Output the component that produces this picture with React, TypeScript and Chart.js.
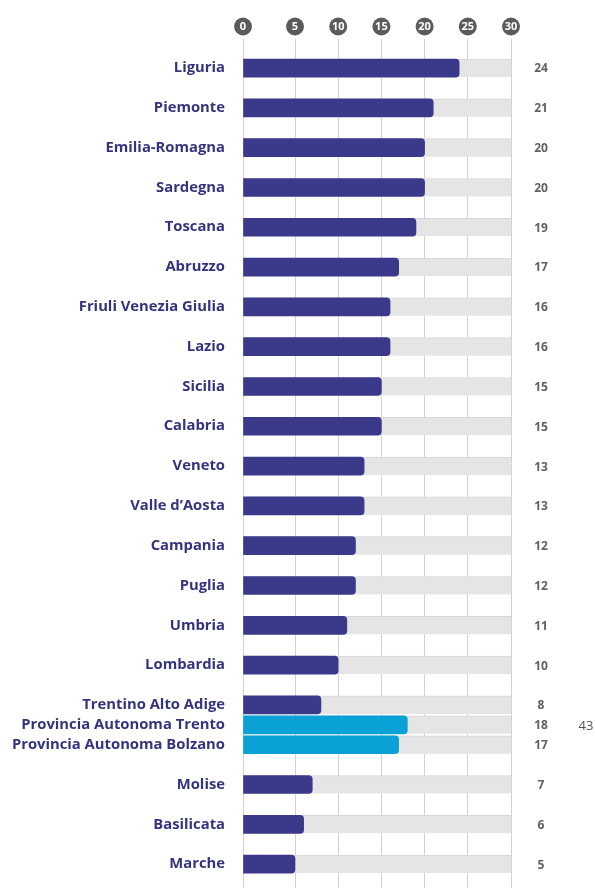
import React, { useEffect, useRef } from "react";
import { Chart, registerables, LinearScale } from "chart.js";

Chart.register(...registerables);

const regions = [
  "Liguria", "Piemonte", "Emilia-Romagna", "Sardegna", "Toscana", "Abruzzo",
  "Friuli Venezia Giulia", "Lazio", "Sicilia", "Calabria", "Veneto", "Valle d\u2019Aosta",
  "Campania", "Puglia", "Umbria", "Lombardia", "Trentino Alto Adige",
  "Provincia Autonoma Trento", "Provincia Autonoma Bolzano", "Molise", "Basilicata", "Marche",
];
const values = [24, 21, 20, 20, 19, 17, 16, 16, 15, 15, 13, 13, 12, 12, 11, 10, 8, 18, 17, 7, 6, 5];
// row slot (in half-row units) for each region
const slots = [0, 2, 4, 6, 8, 10, 12, 14, 16, 18, 20, 22, 24, 26, 28, 30, 32, 33, 34, 36, 38, 40];
const highlighted = ["Provincia Autonoma Trento", "Provincia Autonoma Bolzano"];
const xTicks = [0, 5, 10, 15, 20, 25, 30];
const xMax = 30;
const sideNote = { region: "Provincia Autonoma Trento", text: "43" };

const NAVY = "#3b3a8a";
const CYAN = "#0aa2d6";
const BREAK = 5;
const BREAK_FRAC = 52 / 268;

class PiecewiseScale extends (LinearScale as any) {
  static id = "piecewise";
  static defaults = (LinearScale as any).defaults;
  getPixelForValue(value: number) {
    const max = this.max;
    const frac = value <= BREAK
      ? (value / BREAK) * BREAK_FRAC
      : BREAK_FRAC + ((value - BREAK) / (max - BREAK)) * (1 - BREAK_FRAC);
    return this.getPixelForDecimal(frac);
  }
  getValueForPixel(pixel: number) {
    const frac = this.getDecimalForPixel(pixel);
    const max = this.max;
    return frac <= BREAK_FRAC
      ? (frac / BREAK_FRAC) * BREAK
      : BREAK + ((frac - BREAK_FRAC) / (1 - BREAK_FRAC)) * (max - BREAK);
  }
}
Chart.register(PiecewiseScale as any);

const FONT = "'Open Sans', sans-serif";

export default function App() {
  const ref = useRef<HTMLCanvasElement>(null);
  useEffect(() => {
    document.body.style.margin = "0";
    const canvas = ref.current!;
    const labelBySlot: Record<number, string> = {};
    slots.forEach((s, i) => (labelBySlot[s] = regions[i]));

    const overlay = {
      id: "overlay",
      afterDraw(chart: any) {
        const ctx = chart.ctx;
        const xs = chart.scales.x;
        const ys = chart.scales.y;
        ctx.save();
        // top tick circles
        xTicks.forEach((t) => {
          const px = xs.getPixelForValue(t);
          ctx.beginPath();
          ctx.arc(px, 26.5, 9, 0, Math.PI * 2);
          ctx.fillStyle = "#5b5b5b";
          ctx.fill();
          ctx.fillStyle = "#ffffff";
          ctx.font = `bold 11px ${FONT}`;
          ctx.textAlign = "center";
          ctx.textBaseline = "middle";
          ctx.fillText(String(t), px, 27);
        });
        // value labels
        ctx.font = `bold 12px ${FONT}`;
        ctx.fillStyle = "#606060";
        ctx.textAlign = "center";
        ctx.textBaseline = "middle";
        values.forEach((v, i) => {
          ctx.fillText(String(v), 541, ys.getPixelForValue(slots[i]) + 1);
        });
        const ni = regions.indexOf(sideNote.region);
        ctx.font = `13px ${FONT}`;
        ctx.fillStyle = "#555555";
        ctx.fillText(sideNote.text, 586, ys.getPixelForValue(slots[ni]) + 1);
        ctx.restore();
      },
    };

    const chart = new Chart(canvas, {
      type: "bar",
      data: {
        datasets: [
          {
            data: values.map((v, i) => ({ x: v, y: slots[i] })),
            backgroundColor: regions.map((r) => (highlighted.includes(r) ? CYAN : NAVY)),
            borderRadius: 4,
            borderSkipped: "start",
            barThickness: 18,
            grouped: false,
          },
          {
            data: values.map((_, i) => ({ x: xMax, y: slots[i] })),
            backgroundColor: "#e5e5e5",
            borderColor: "#d6d6d6",
            borderWidth: { top: 1, left: 0, right: 0, bottom: 0 },
            borderSkipped: false,
            barThickness: 18,
            grouped: false,
          },
        ],
      },
      options: {
        indexAxis: "y",
        animation: false,
        responsive: false,
        maintainAspectRatio: false,
        layout: { padding: { top: 39, right: 84, bottom: 0, left: 0 } },
        plugins: { legend: { display: false }, tooltip: { enabled: false } },
        scales: {
          x: {
            type: "piecewise" as any,
            position: "top",
            min: 0,
            max: xMax,
            bounds: "data",
            afterBuildTicks: (scale: any) => {
              scale.ticks = xTicks.map((v) => ({ value: v }));
            },
            afterFit: (scale: any) => {
              scale.height = 0;
              scale.paddingLeft = 0;
              scale.paddingRight = 0;
            },
            ticks: { display: false },
            grid: { color: "#d2d2d2", lineWidth: 1, drawTicks: false },
            border: { display: false },
          },
          y: {
            type: "linear",
            reverse: true,
            offset: false,
            min: -1.46,
            max: 41.2,
            bounds: "data",
            grace: 0,
            afterBuildTicks: (scale: any) => {
              scale.ticks = slots.map((v) => ({ value: v }));
            },
            afterFit: (scale: any) => {
              scale.width = 243;
              scale.paddingTop = 0;
              scale.paddingBottom = 0;
            },
            ticks: {
              autoSkip: false,
              padding: 18,
              color: "#34347e",
              font: { family: FONT, weight: "bold", size: 14.8 },
              callback: (v: any) => labelBySlot[v as number] ?? "",
            },
            grid: { display: false, drawTicks: false },
            border: { display: false },
          },
        },
      },
      plugins: [overlay],
    } as any);
    return () => chart.destroy();
  }, []);
  return <canvas ref={ref} width={595} height={888} style={{ display: "block" }} />;
}
